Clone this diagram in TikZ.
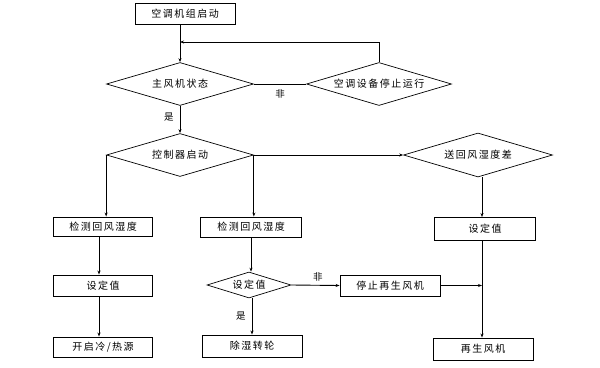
\documentclass[tikz,border=0pt]{standalone}
\usepackage{fontspec}
\newfontfamily\cjk[LetterSpace=15]{Noto Sans CJK SC}
\usetikzlibrary{shapes.geometric,arrows.meta}
\tikzset{
  box/.style={draw, line width=0.9pt, rectangle, inner sep=0pt, minimum width=100pt, minimum height=21pt, font=\cjk\fontsize{10}{11}\selectfont},
  dia/.style={draw, line width=0.7pt, diamond, inner sep=0pt, aspect=3.4, minimum width=147pt, minimum height=43pt, font=\cjk\fontsize{10}{11}\selectfont},
  lbl/.style={font=\cjk\fontsize{9.5}{10}\selectfont, inner sep=0pt},
  conn/.style={line width=0.9pt, -{Stealth[length=4pt,width=3pt]}},
  plain/.style={line width=0.9pt}
}
\begin{document}
\begin{tikzpicture}[x=1pt,y=-1pt]
\useasboundingbox (0,0) rectangle (600,367);
\node[box] (start) at (185,14) {空调机组启动};
\node[dia] (m1) at (180,84) {主风机状态};
\node[dia, minimum width=145pt] (stop) at (379,84) {空调设备停止运行};
\node[dia] (ctrl) at (180,155) {控制器启动};
\node[dia, minimum width=149pt, minimum height=44pt] (diff) at (478,155) {送回风湿度差};
\node[box, minimum width=99pt, minimum height=19pt] (det1) at (103,226.5) {检测回风湿度};
\node[box, minimum width=99pt] (set1) at (103,285.5) {设定值};
\node[box, minimum width=99pt, minimum height=20pt] (heat) at (103,347) {开启冷/热源};
\node[box, minimum width=101pt, minimum height=20pt] (det2) at (251,227) {检测回风湿度};
\node[dia, aspect=3.2, minimum width=84pt, minimum height=26pt] (dz) at (249,285) {设定值};
\node[box, minimum height=22pt] (dehum) at (252,346) {除湿转轮};
\node[box] (stopfan) at (390,285.5) {停止再生风机};
\node[box, minimum width=101pt, minimum height=23pt] (set3) at (485,229) {设定值};
\node[box, minimum height=22pt] (regen) at (483,349) {再生风机};
\coordinate (fb) at (180,42);
\coordinate (rj) at (482,285.5);

\draw[plain] (start.south -| m1.north) -- (fb);
\draw[conn] (fb) -- (m1.north);
\draw[plain] (stop.north) -- (stop.north |- fb);
\draw[conn] (stop.north |- fb) -- (fb);
\draw[plain] (m1.east) -- node[lbl, below=5pt] {非} (stop.west);
\draw[conn] (m1.south) -- node[lbl, left=6pt, pos=0.4] {是} (ctrl.north);
\draw[conn] (ctrl.east) -- (diff.west);
\draw[conn] (ctrl.west) -- (ctrl.west |- det1.north);
\draw[conn] (ctrl.east) -- (ctrl.east |- det2.north);
\draw[conn] (det1.south -| 99,0) -- (set1.north -| 99,0);
\draw[conn] (set1.south -| 99,0) -- (heat.north -| 99,0);
\draw[conn] (det2.south) -- (dz.north -| det2.south);
\draw[conn] (dz.south -| dehum.north) -- node[lbl, left=6pt] {是} (dehum.north);
\draw[conn] (dz.east) -- node[lbl, above=4pt, pos=0.55] {非} (stopfan.west);
\draw[conn] (diff.south -| rj) -- (set3.north -| rj);
\draw[conn] (set3.south -| rj) -- (regen.north -| rj);
\draw[conn] (stopfan.east) -- (rj);
\end{tikzpicture}
\end{document}
